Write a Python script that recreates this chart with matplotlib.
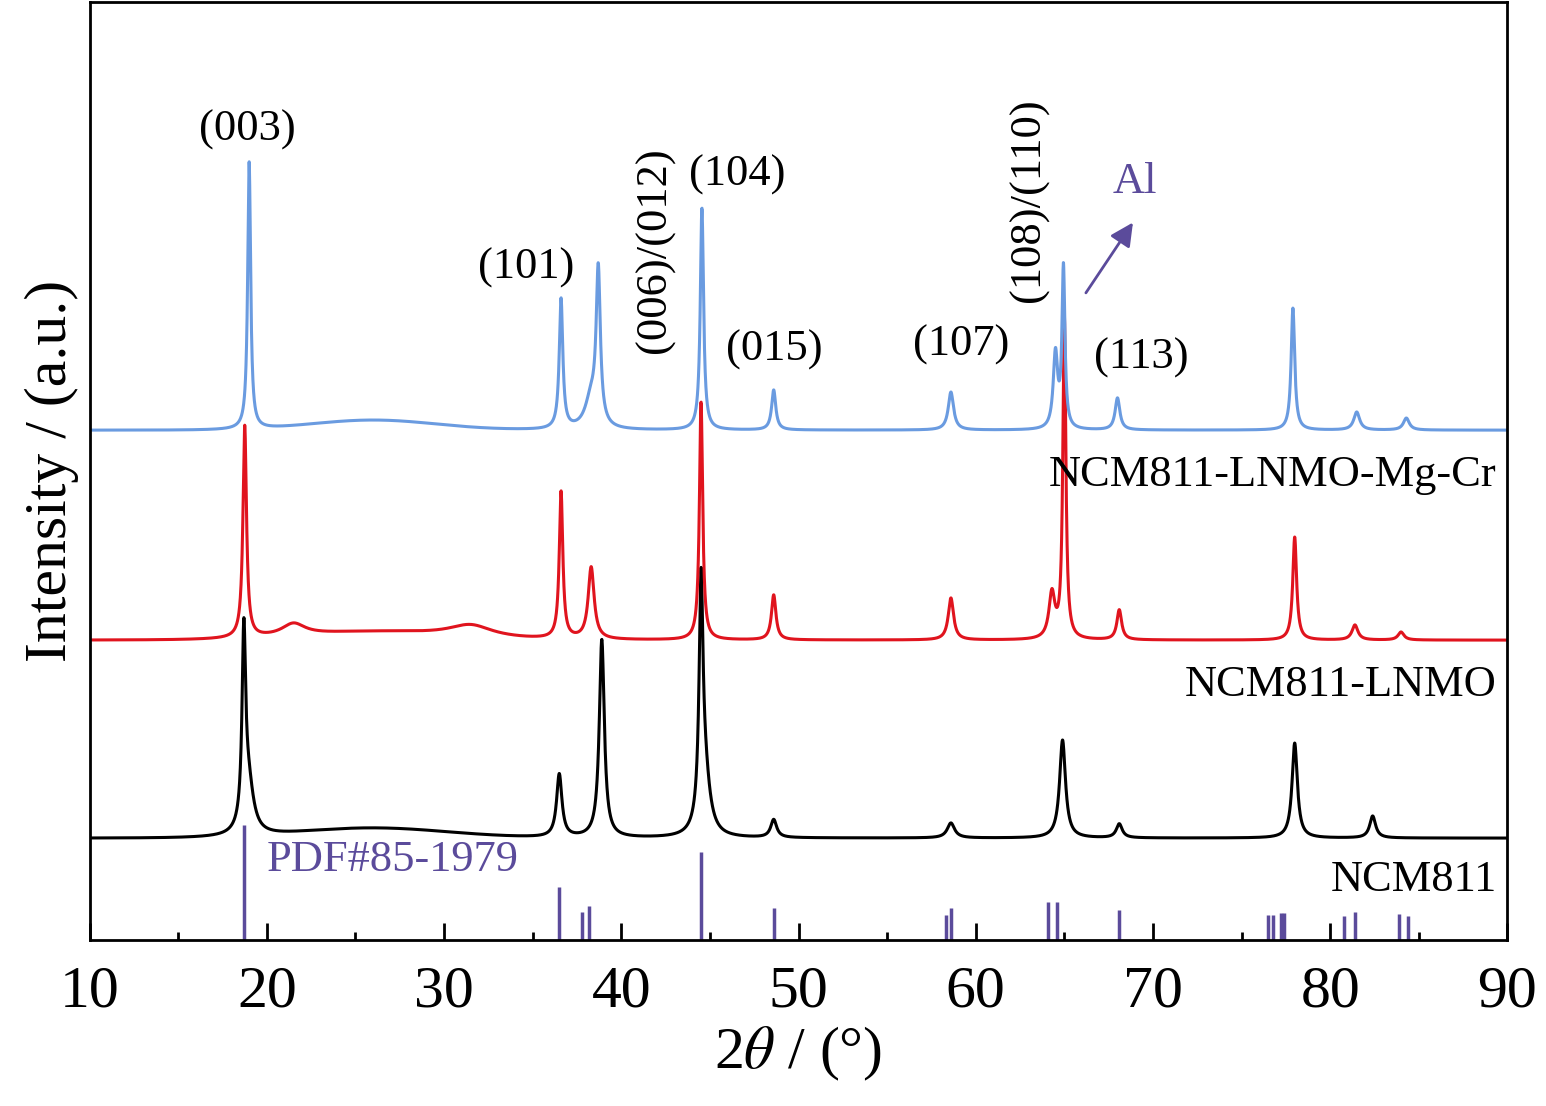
import numpy as np
import matplotlib.pyplot as plt

plt.rcParams['font.family'] = ['Liberation Serif', 'DejaVu Serif']
plt.rcParams['mathtext.fontset'] = 'stix'

# peak positions (2theta), heights above baseline, half widths (pixel-like intensity units)
ncm_base = 102
ncm_pos = [18.7, 18.95, 36.5, 38.9, 44.5, 44.7, 48.6, 58.6, 64.9, 68.1, 78.0, 82.4]
ncm_hgt = [185, 50, 63, 198, 225, 60, 18, 15, 98, 14, 95, 22]
ncm_wid = [0.12, 0.35, 0.18, 0.17, 0.13, 0.35, 0.2, 0.25, 0.2, 0.2, 0.18, 0.2]

lnmo_base = 300
lnmo_pos = [18.75, 21.5, 31.5, 36.6, 38.3, 44.5, 48.6, 58.6, 64.3, 65.0, 68.1, 78.0, 81.4, 84.0]
lnmo_hgt = [212, 12, 12, 147, 72, 238, 45, 42, 45, 322, 30, 103, 15, 8]
lnmo_wid = [0.12, 0.8, 1.5, 0.12, 0.2, 0.11, 0.15, 0.18, 0.2, 0.1, 0.16, 0.13, 0.2, 0.2]

mgcr_base = 510
mgcr_pos = [19.0, 36.6, 38.7, 38.3, 44.55, 48.6, 58.6, 64.5, 64.95, 68.0, 77.9, 81.5, 84.3]
mgcr_hgt = [267, 130, 152, 30, 222, 40, 38, 75, 160, 32, 122, 18, 12]
mgcr_wid = [0.1, 0.12, 0.14, 0.4, 0.11, 0.14, 0.18, 0.15, 0.1, 0.16, 0.12, 0.2, 0.2]

# broad amorphous humps: (centre, height, width)
ncm_hump = [(26, 10, 6)]
lnmo_hump = [(26, 8, 6)]
mgcr_hump = [(26, 10, 5)]

# reference pattern PDF#85-1979
ref_pos = [18.7, 36.5, 37.8, 38.2, 44.5, 48.6, 58.3, 58.6, 64.1, 64.6, 68.1,
           76.5, 76.8, 77.2, 77.4, 80.8, 81.4, 83.9, 84.4]
ref_hgt = [115, 53, 28, 34, 88, 32, 25, 32, 38, 38, 30, 25, 25, 27, 27, 24, 28, 26, 24]


def pattern(x, base, pos, hgt, wid, humps):
    y = np.full_like(x, base, dtype=float)
    for p, h, w in zip(pos, hgt, wid):
        y += h / (1 + ((x - p) / w) ** 2)
    for c, h, w in humps:
        y += h * np.exp(-((x - c) / w) ** 2)
    return y


x = np.linspace(10, 90, 8000)
fig = plt.figure(figsize=(15.46, 11.06), dpi=100)
ax = fig.add_axes([0.058, 0.150, 0.917, 0.848])

ax.plot(x, pattern(x, ncm_base, ncm_pos, ncm_hgt, ncm_wid, ncm_hump), color='black', lw=2.2)
ax.plot(x, pattern(x, lnmo_base, lnmo_pos, lnmo_hgt, lnmo_wid, lnmo_hump), color='#e0141e', lw=2.2)
ax.plot(x, pattern(x, mgcr_base, mgcr_pos, mgcr_hgt, mgcr_wid, mgcr_hump), color='#6a9be0', lw=2.2)

purple = '#5b4b9b'
ax.vlines(ref_pos, 0, ref_hgt, color=purple, lw=2.5)

ax.set_xlim(10, 90)
ax.set_ylim(0, 938)
ax.set_yticks([])
ax.set_xticks(range(10, 91, 10))
ax.set_xticks(range(15, 90, 10), minor=True)
ax.tick_params(axis='x', which='major', direction='in', length=12, width=2, labelsize=43, pad=18)
ax.tick_params(axis='x', which='minor', direction='in', length=6, width=2)
for s in ax.spines.values():
    s.set_linewidth(2)

ax.set_xlabel(r'2$\it{\theta}$ / (°)', fontsize=43, labelpad=4)
ax.set_ylabel('Intensity / (a.u.)', fontsize=43, labelpad=8)

fs = 32
ax.text(18.9, 810, '(003)', fontsize=fs, ha='center', va='center')
ax.text(34.65, 672, '(101)', fontsize=fs, ha='center', va='center')
ax.text(41.9, 690, '(006)/(012)', fontsize=fs, ha='center', va='center', rotation=90)
ax.text(46.55, 765, '(104)', fontsize=fs, ha='center', va='center')
ax.text(48.65, 590, '(015)', fontsize=fs, ha='center', va='center')
ax.text(59.2, 595, '(107)', fontsize=fs, ha='center', va='center')
ax.text(63.0, 740, '(108)/(110)', fontsize=fs, ha='center', va='center', rotation=90)
ax.text(69.35, 582, '(113)', fontsize=fs, ha='center', va='center')
ax.text(68.96, 758, 'Al', fontsize=fs, ha='center', va='center', color=purple)
ax.annotate('', xy=(68.96, 720), xytext=(66.13, 645),
            arrowprops=dict(arrowstyle='-|>', color=purple, lw=2, mutation_scale=35))

ax.text(89.4, 465, 'NCM811-LNMO-Mg-Cr', fontsize=fs, ha='right', va='center')
ax.text(89.4, 255, 'NCM811-LNMO', fontsize=fs, ha='right', va='center')
ax.text(89.4, 60, 'NCM811', fontsize=fs, ha='right', va='center')
ax.text(20.0, 80, 'PDF#85-1979', fontsize=fs, ha='left', va='center', color=purple)

fig.savefig('out.png', dpi=100)
